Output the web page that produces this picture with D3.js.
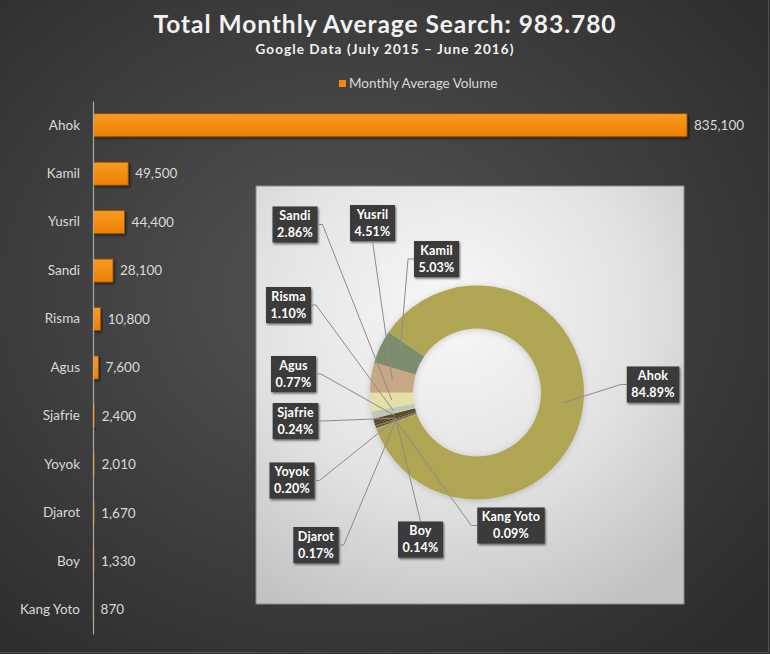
<!DOCTYPE html>
<html><head><meta charset="utf-8">
<script src="https://cdn.jsdelivr.net/npm/d3@7"></script>
<style>html,body{margin:0;padding:0;background:#333;} svg{display:block;}</style>
</head><body>
<svg id="chart" width="770" height="654"></svg>
<script>
// ---------- data ----------
const titleText = "Total Monthly Average Search: 983.780";
const subtitleText = "Google Data (July 2015 \u2013 June 2016)";
const legendText = "Monthly Average Volume";
const categories = ["Ahok","Kamil","Yusril","Sandi","Risma","Agus","Sjafrie","Yoyok","Djarot","Boy","Kang Yoto"];
const volumes = [835100,49500,44400,28100,10800,7600,2400,2010,1670,1330,870];
const sliceColors = ["#b0a553","#7b8d6d","#c7a882","#e4e0aa","#bfc8b5","#5c4b28","#3f3521","#85763f","#4c4129","#958a52","#a59d5e"];

// ---------- layout (not data) ----------
const W = 770, H = 654;
const FONT = "Lato, 'Open Sans', sans-serif";
const labelLayout = {
  "Ahok":     {cx:653,   cy:384.5, side:"left"},
  "Kamil":    {cx:436.5, cy:259,   side:"left"},
  "Yusril":   {cx:372.5, cy:223,   side:"bottom"},
  "Sandi":    {cx:295,   cy:224.5, side:"right"},
  "Risma":    {cx:288.5, cy:305,   side:"right"},
  "Agus":     {cx:293.5, cy:374,   side:"right"},
  "Sjafrie":  {cx:295.5, cy:421,   side:"right"},
  "Yoyok":    {cx:292,   cy:480.5, side:"right"},
  "Djarot":   {cx:316,   cy:545,   side:"right"},
  "Boy":      {cx:420.5, cy:539.5, side:"top"},
  "Kang Yoto":{cx:511,   cy:525.5, side:"left"}
};

const svg = d3.select("#chart");
const defs = svg.append("defs");

// background gradient
const bg = defs.append("radialGradient").attr("id","bgGrad")
  .attr("cx","45%").attr("cy","45%").attr("r","70%");
bg.append("stop").attr("offset","0%").attr("stop-color","#545454");
bg.append("stop").attr("offset","100%").attr("stop-color","#2d2d2d");

const pg = defs.append("radialGradient").attr("id","panelGrad")
  .attr("cx","45%").attr("cy","30%").attr("r","80%");
pg.append("stop").attr("offset","0%").attr("stop-color","#f8f8f8");
pg.append("stop").attr("offset","55%").attr("stop-color","#e2e2e2");
pg.append("stop").attr("offset","100%").attr("stop-color","#c2c2c2");

const barGrad = defs.append("linearGradient").attr("id","barGrad")
  .attr("x1","0").attr("y1","0").attr("x2","0").attr("y2","1");
barGrad.append("stop").attr("offset","0%").attr("stop-color","#fa9a22");
barGrad.append("stop").attr("offset","100%").attr("stop-color","#ec8000");

const sh = defs.append("filter").attr("id","shadow").attr("x","-20%").attr("y","-20%").attr("width","150%").attr("height","150%");
sh.append("feDropShadow").attr("dx",1.5).attr("dy",1.5).attr("stdDeviation",1.2)
  .attr("flood-color","#000").attr("flood-opacity",0.55);
const sh2 = defs.append("filter").attr("id","shadow2").attr("x","-10%").attr("y","-10%").attr("width","130%").attr("height","130%");
sh2.append("feDropShadow").attr("dx",1).attr("dy",1.5).attr("stdDeviation",1)
  .attr("flood-color","#000").attr("flood-opacity",0.6);
const glow = defs.append("filter").attr("id","glow").attr("x","-20%").attr("y","-20%").attr("width","140%").attr("height","140%");
glow.append("feDropShadow").attr("dx",0).attr("dy",1).attr("stdDeviation",3)
  .attr("flood-color","#000").attr("flood-opacity",0.18);

svg.append("rect").attr("width",W).attr("height",H).attr("fill","url(#bgGrad)");
svg.append("path").attr("d",`M${W-1.5},0V${H-1.5}H0`).attr("fill","none").attr("stroke","#505050").attr("stroke-width",1);

// ---------- titles ----------
function fitText(sel, target) {
  const n = sel.text().length;
  const w = sel.node().getComputedTextLength();
  sel.attr("letter-spacing", ((target - w) / (n - 1)).toFixed(3));
}
const tt = svg.append("text").attr("x",385).attr("y",33).attr("text-anchor","middle")
  .attr("font-family",FONT).attr("font-weight","bold").attr("font-size",24.5)
  .attr("fill","#f2f2f2").text(titleText);
fitText(tt, 462);
const st = svg.append("text").attr("x",385).attr("y",54).attr("text-anchor","middle")
  .attr("font-family",FONT).attr("font-weight","bold").attr("font-size",13.5)
  .attr("fill","#f2f2f2").text(subtitleText);
fitText(st, 258);

// legend
const lg = svg.append("g");
lg.append("rect").attr("x",339).attr("y",80).attr("width",7).attr("height",7).attr("fill","#f28a06");
lg.append("text").attr("x",349).attr("y",88).attr("font-family",FONT).attr("font-size",13.5)
  .attr("fill","#d9d9d9").text(legendText);

// ---------- bar chart ----------
const x0 = 93;
const x = d3.scaleLinear().domain([0, d3.max(volumes)]).range([x0, 687]);
const y = d3.scaleBand().domain(categories).range([101, 634]).paddingInner(0.525).paddingOuter(0.2625);

const bars = svg.append("g");
bars.selectAll("rect").data(categories).join("rect")
  .attr("x", x0)
  .attr("y", d => y(d))
  .attr("width", (d,i) => Math.max(0.6, x(volumes[i]) - x0))
  .attr("height", y.bandwidth())
  .attr("fill","url(#barGrad)")
  .attr("stroke","#8e4c00").attr("stroke-width",0.8)
  .attr("filter","url(#shadow)");

const yAxis = d3.axisLeft(y).tickSize(0).tickPadding(13);
const ya = svg.append("g").attr("transform",`translate(${x0},0)`).call(yAxis);
ya.select(".domain").attr("stroke","#a8a8a8").attr("stroke-width",1.2);
ya.selectAll("text").attr("font-family",FONT).attr("font-size",13.5).attr("fill","#d9d9d9");

const fmt = d3.format(",");
svg.append("g").selectAll("text").data(categories).join("text")
  .attr("x",(d,i) => x(volumes[i]) + 7)
  .attr("y", d => y(d) + y.bandwidth()/2)
  .attr("dy","0.35em")
  .attr("font-family",FONT).attr("font-size",13.5).attr("fill","#d9d9d9")
  .text((d,i) => fmt(volumes[i]));

// ---------- donut panel ----------
svg.append("rect").attr("x",256).attr("y",186).attr("width",428).attr("height",418)
  .attr("fill","url(#panelGrad)").attr("stroke","#8a8a8a").attr("stroke-width",1);

const cx = 477, cy = 392.5;
const total = d3.sum(volumes);
const pieData = categories.map((c,i) => ({cat:c, value:volumes[i], color:sliceColors[i]})).reverse();
const deg = Math.PI/180;
const pie = d3.pie().sort(null).value(d => d.value).startAngle(250*deg).endAngle(610*deg);
const arc = d3.arc().innerRadius(64).outerRadius(107);
const arcs = pie(pieData);

const dg = svg.append("g").attr("transform",`translate(${cx},${cy})`).attr("filter","url(#glow)");
dg.selectAll("path").data(arcs).join("path")
  .attr("d", arc).attr("fill", d => d.data.color);

// leader lines + labels
const pct = d3.format(".2%");
const lblG = svg.append("g");
const lineG = svg.append("g");
arcs.forEach(a => {
  const L = labelLayout[a.data.cat];
  const g = lblG.append("g");
  const t1 = g.append("text").attr("x",L.cx).attr("y",L.cy-8.5).attr("dy","0.35em")
    .attr("text-anchor","middle").attr("font-family",FONT).attr("font-weight","bold")
    .attr("font-size",12.5).attr("letter-spacing",0.2).attr("fill","#ffffff").text(a.data.cat);
  const t2 = g.append("text").attr("x",L.cx).attr("y",L.cy+8.5).attr("dy","0.35em")
    .attr("text-anchor","middle").attr("font-family",FONT).attr("font-weight","bold")
    .attr("font-size",12.5).attr("letter-spacing",0.2).attr("fill","#ffffff").text(pct(a.data.value/total));
  const w = Math.max(t1.node().getComputedTextLength(), t2.node().getComputedTextLength()) + 9;
  const h = 36;
  g.insert("rect","text").attr("x",L.cx-w/2).attr("y",L.cy-h/2).attr("width",w).attr("height",h)
    .attr("fill","#3b3b3b").attr("filter","url(#shadow2)");
  const c = arc.centroid(a);
  const target = [cx + c[0], cy + c[1]];
  let pts;
  if (L.side === "left")   pts = [[L.cx-w/2, L.cy],[L.cx-w/2-6, L.cy], target];
  if (L.side === "right")  pts = [[L.cx+w/2, L.cy],[L.cx+w/2+5, L.cy], target];
  if (L.side === "top")    pts = [[L.cx, L.cy-h/2], target];
  if (L.side === "bottom") pts = [[L.cx, L.cy+h/2], target];
  lineG.append("path").attr("d", d3.line()(pts)).attr("fill","none")
    .attr("stroke","#8c8c8c").attr("stroke-width",1);
});
</script>
</body></html>
